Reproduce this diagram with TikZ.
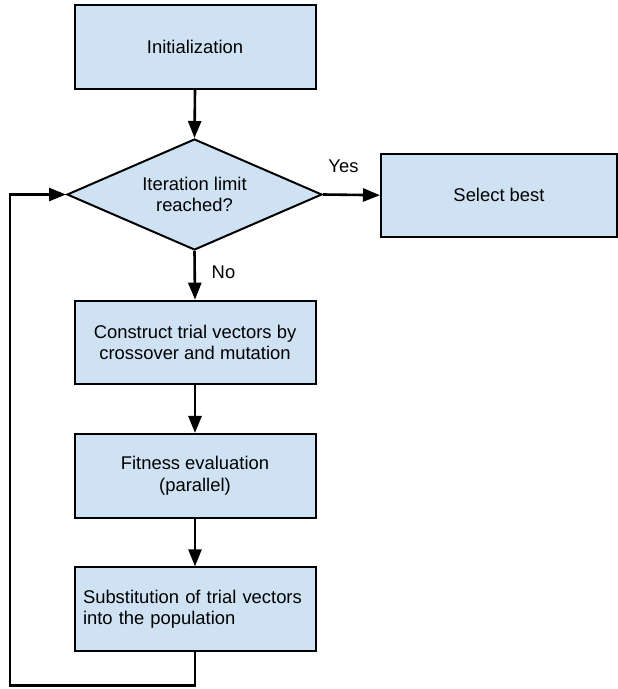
\documentclass[tikz,border=0pt]{standalone}
\usepackage{fontspec}
\setmainfont{Liberation Sans}
\usetikzlibrary{shapes.geometric,arrows.meta}
\definecolor{boxfill}{RGB}{207,226,243}
\begin{document}
\begin{tikzpicture}[x=1pt,y=-1pt,
  every node/.style={font=\fontsize{18.4}{21.5}\selectfont},
  procbox/.style={draw=black,fill=boxfill,line width=2pt,minimum width=241pt,minimum height=83.7pt,align=center,inner sep=0pt},
  decbox/.style={draw=black,fill=boxfill,line width=2pt,shape=diamond,aspect=2.27,minimum width=255pt,minimum height=111pt,align=center,inner sep=0pt},
  flow/.style={line width=2.6pt,-{Triangle[length=17pt,width=13pt]}},
  lbl/.style={inner sep=0pt}]
\useasboundingbox (0,0) rectangle (618,689);
\node[procbox] (init) at (195,47.2) {Initialization};
\node[decbox] (dec) at (194.5,194.5) {Iteration limit\\reached?};
\node[procbox,minimum width=236pt,minimum height=83pt] (sel) at (499,195.2) {Select best};
\node[procbox] (cons) at (195,342.5) {Construct trial vectors by\\crossover and mutation};
\node[procbox] (fit) at (195,475.8) {Fitness evaluation\\(parallel)};
\node[procbox,text width=224pt,align=left] (sub) at (195,609.2) {Substitution of trial vectors\\into the population};
\node[lbl] (yes) at (343.5,166.5) {Yes};
\node[lbl] (no) at (223.5,272.7) {No};
\coordinate (lb) at (10,685.5);
\draw[flow] (init.south) -- (dec.north);
\draw[flow] (dec.east) -- (sel.west);
\draw[flow] (dec.south) -- (cons.north);
\draw[flow] (cons.south) -- (fit.north);
\draw[flow] (fit.south) -- (sub.north);
\draw[flow,line join=miter] (sub.south) |- (lb) |- (dec.west);
\end{tikzpicture}
\end{document}
